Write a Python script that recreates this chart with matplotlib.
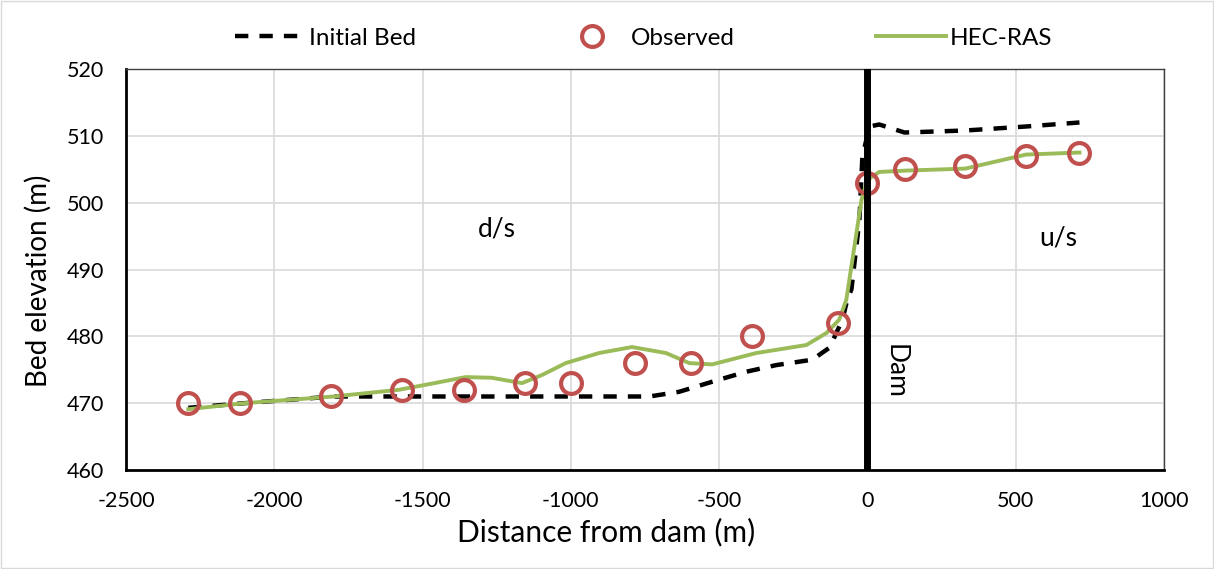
import matplotlib
matplotlib.use('Agg')
import matplotlib.pyplot as plt
from matplotlib.patches import Rectangle

plt.rcParams['font.family'] = ['Lato', 'DejaVu Sans']
plt.rcParams['axes.unicode_minus'] = False

# Initial bed profile (m from dam, m)
init_x = [-2290, -2100, -1800, -1570, -1360, -1155, -1000, -800, -735, -635,
          -524, -409, -307, -186, -128, -84, -68, -54, -27, -17,
          7, 40, 125, 330, 535, 715]
init_y = [469.3, 470.0, 471.0, 471.0, 471.0, 471.0, 471.0, 471.0, 471.0, 471.7,
          473.2, 474.7, 475.7, 476.5, 478.3, 482.5, 485.5, 487.0, 497.4, 506.9,
          511.4, 511.7, 510.5, 510.8, 511.4, 512.0]

# observed bed
obs_x = [-2290, -2115, -1810, -1570, -1360, -1155, -1000, -785, -595, -390,
         -100, 0, 128, 330, 535, 715]
obs_y = [470, 470, 471, 472, 472, 473, 473, 476, 476, 480,
         482, 503, 505, 505.5, 507, 507.5]

# HEC-RAS result
ras_x = [-2290, -2100, -1800, -1580, -1460, -1355, -1267, -1165, -1098, -1017,
         -905, -794, -679, -601, -524, -375, -206, -138, -95, -71,
         -44, -20, 0, 40, 130, 330, 535, 715]
ras_y = [469.1, 470.0, 471.0, 472.0, 473.0, 473.9, 473.8, 473.0, 474.2, 476.0,
         477.5, 478.4, 477.5, 476.0, 475.8, 477.5, 478.7, 480.5, 482.5, 485.5,
         493.4, 500.4, 503.4, 504.6, 504.8, 505.1, 507.2, 507.5]

fig = plt.figure(figsize=(12.14, 5.69), dpi=100)
fig.patch.set_facecolor('white')
fig.patches.append(Rectangle((0.001, 0.001), 0.998, 0.997, transform=fig.transFigure,
                             fill=False, edgecolor='#D9D9D9', linewidth=1))

ax = fig.add_axes([0.1038, 0.174, 0.855, 0.7047])

ax.plot(init_x, init_y, color='black', linestyle=(0, (3, 2.5)), linewidth=3.2,
        label='Initial Bed', zorder=3)
ax.plot(obs_x, obs_y, linestyle='none', marker='o', markersize=15,
        markerfacecolor='none', markeredgecolor='#C0504D', markeredgewidth=3,
        label='Observed', zorder=5)
ax.plot(ras_x, ras_y, color='#9BBB59', linewidth=2.8, label='HEC-RAS', zorder=4)

ax.axvline(0, color='black', linewidth=5, zorder=6)

ax.text(-1250, 496, 'd/s', fontsize=19, ha='center', va='center')
ax.text(642, 494.7, 'u/s', fontsize=19, ha='center', va='center')
ax.text(52, 478.8, 'Dam', fontsize=19, rotation=-90, ha='left', va='top')

ax.set_xlim(-2500, 1000)
ax.set_ylim(460, 520)
ax.set_xticks(range(-2500, 1001, 500))
ax.set_yticks(range(460, 521, 10))
ax.grid(True, color='#D9D9D9', linewidth=1.2)
ax.set_axisbelow(True)
ax.tick_params(labelsize=15.5, length=0)
ax.tick_params(axis='x', pad=15)
ax.tick_params(axis='y', pad=16)

ax.set_xlabel('Distance from dam (m)', fontsize=21.5)
ax.set_ylabel('Bed elevation (m)', fontsize=20)
ax.xaxis.set_label_coords(0.463, -0.118)
ax.yaxis.set_label_coords(-0.0713, 0.471)

for s in ['left', 'bottom']:
    ax.spines[s].set_linewidth(2)
    ax.spines[s].set_color('black')
for s in ['top', 'right']:
    ax.spines[s].set_linewidth(1)
    ax.spines[s].set_color('#404040')

fig.legend(loc='center', bbox_to_anchor=(0.53, 0.933), ncol=3, frameon=False,
           fontsize=17.5, handlelength=2.9, columnspacing=5.8, handletextpad=0.15)

plt.savefig('out.png', dpi=100)
plt.close(fig)
